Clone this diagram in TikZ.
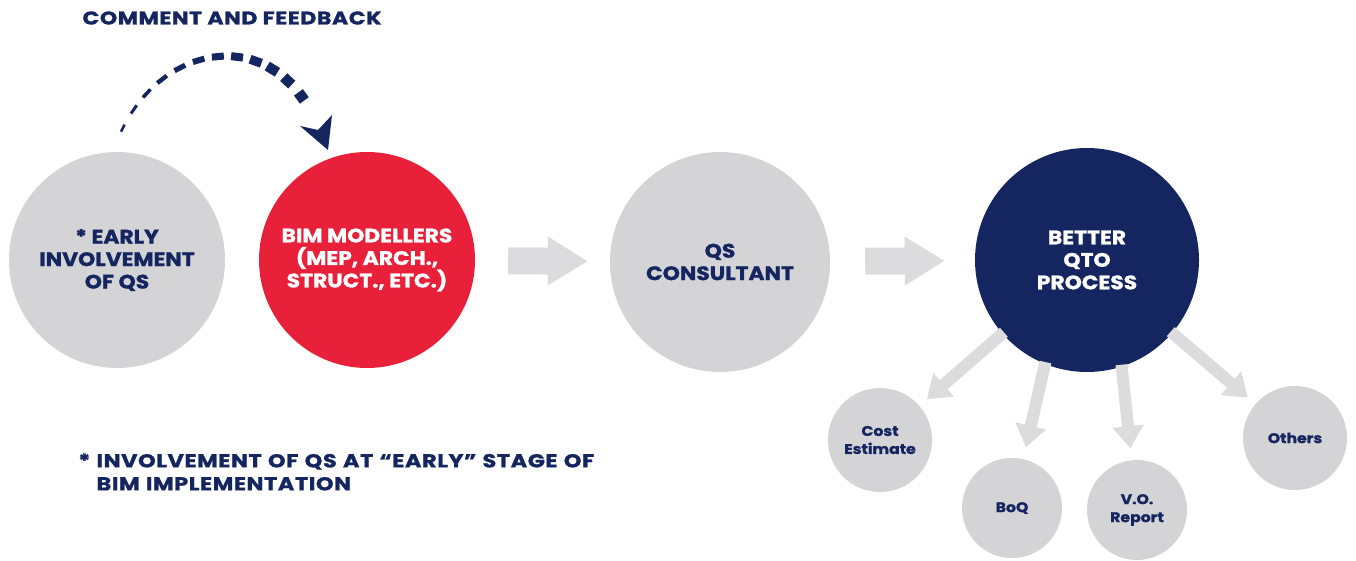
\documentclass[tikz,border=0pt]{standalone}
\usepackage{fontspec}
\setmainfont{Poppins}
\newfontfamily\hb{Poppins}[FakeStretch=1.12,FakeBold=1.2]
\newfontfamily\hbw{Poppins}[FakeStretch=1.2,FakeBold=1.2,LetterSpace=3]
\usetikzlibrary{arrows.meta,calc}
\definecolor{navy}{HTML}{142560}
\definecolor{bimred}{HTML}{E8203A}
\definecolor{cgray}{HTML}{D4D4D6}
\definecolor{agray}{HTML}{DCDCDE}
\begin{document}
\begin{tikzpicture}[x=1pt,y=-1pt,
  big/.style={circle,minimum size=216pt,inner sep=0pt,align=center,font=\hb\bfseries\fontsize{19.5}{22.5}\selectfont},
  small/.style={circle,minimum size=104pt,inner sep=0pt,fill=cgray,text=navy,align=center,font=\hb\bfseries\fontsize{14}{18}\selectfont},
  blockarrow/.style={draw=agray,line width=27pt,-{Triangle[length=40pt,width=46pt]}},
  thinarrow/.style={draw=agray,line width=12pt,-{Triangle[length=22pt,width=30pt]}},
  label/.style={text=navy,font=\hbw\bfseries\fontsize{18.7}{23}\selectfont,align=left}]
\useasboundingbox (0,0) rectangle (1356,561);
\fill[white] (0,0) rectangle (1356,561);

\node[big,fill=cgray,text=navy] (early) at (117,260) {* EARLY\\INVOLVEMENT\\OF QS};
\node[big,fill=bimred,text=white] (bim) at (367,260) {BIM MODELLERS\\(MEP, ARCH.,\\STRUCT., ETC.)};
\node[big,fill=cgray,text=navy,minimum size=220pt] (qs) at (720,262) {QS\\CONSULTANT};
\node[big,fill=navy,text=white,minimum size=224pt] (qto) at (1087,260) {BETTER\\QTO\\PROCESS};

\node[small] (cost) at (880,440) {Cost\\Estimate};
\node[small,minimum size=100pt] (boq) at (1012,508) {BoQ};
\node[small,minimum size=100pt] (vo) at (1137,510) {V.O.\\Report};
\node[small] (others) at (1295,438) {Others};

\draw[blockarrow,shorten <=33pt,shorten >=22pt] (bim) -- (qs);
\draw[blockarrow,shorten <=35pt,shorten >=30pt] (qs) -- (qto);

\draw[thinarrow,shorten <=-2pt,shorten >=10pt] (qto) -- (cost);
\draw[thinarrow,shorten <=-2pt,shorten >=12pt] (qto.-112) -- (boq);
\draw[thinarrow,shorten <=-2pt,shorten >=12pt] (qto.-72) -- (vo);
\draw[thinarrow,shorten <=-2pt,shorten >=10pt] (qto) -- (others);

\node[label,anchor=west,font=\hbw\bfseries\fontsize{18.4}{23}\selectfont] (title) at (79,18) {COMMENT AND FEEDBACK};

\coordinate (cs) at (120,134);
\coordinate (ce) at (321,136);
\foreach \t/\w/\l in {0.02/2.5/8,0.09/3/10,0.16/3.6/11,0.235/4.4/12,0.315/5.2/12,0.395/6/12,0.475/7/12,0.555/8/12,0.635/9/12,0.71/10/12,0.785/10.5/11,0.86/11/10}{
  \path (cs) .. controls (165,35) and (285,25) .. (ce)
    node[pos=\t,sloped,fill=navy,inner sep=0pt,minimum width=\l pt,minimum height=\w pt] {};
}
\coordinate (tip) at (328,150);
\fill[navy] (tip) -- (300,126) -- (318,130) -- (332,115) -- cycle;

\node[label,anchor=north west,text width=700pt] (note) at (93,450) {\llap{* }INVOLVEMENT OF QS AT “EARLY” STAGE OF\\BIM IMPLEMENTATION};
\end{tikzpicture}
\end{document}
